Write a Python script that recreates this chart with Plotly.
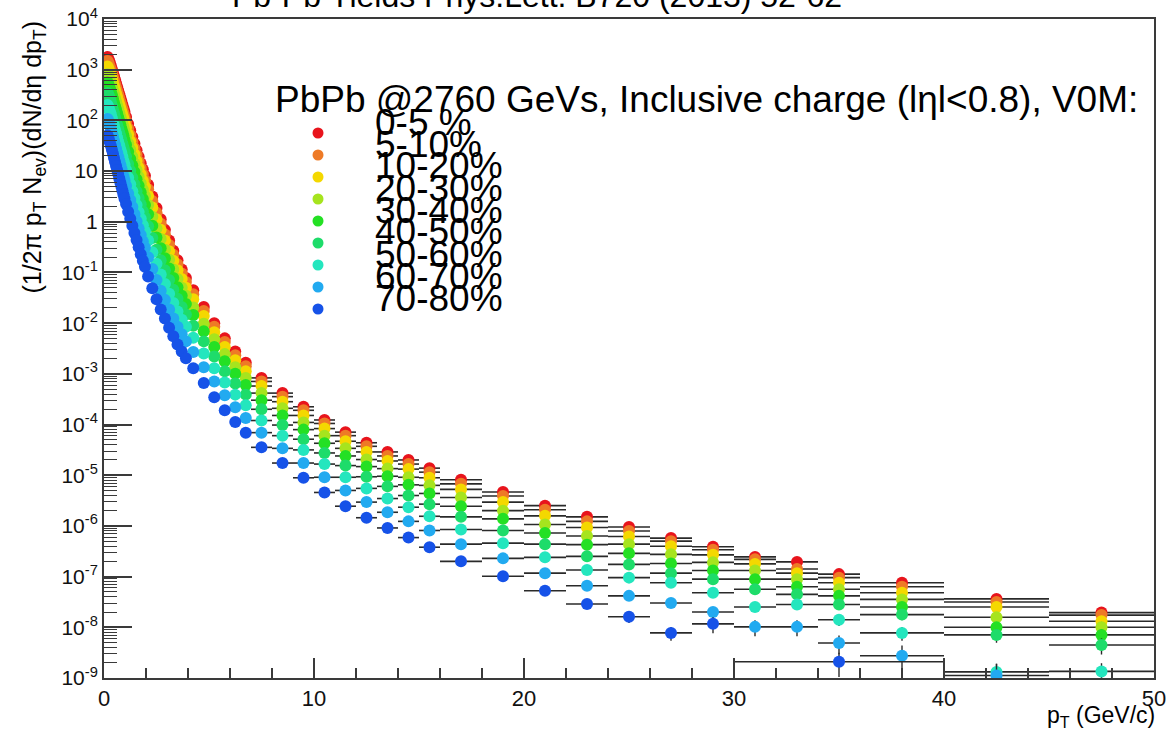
import plotly.graph_objects as go

# ---------------- data ----------------
pt_edges = [0.15, 0.2, 0.25, 0.3, 0.35, 0.4, 0.45, 0.5, 0.55, 0.6, 0.65, 0.7, 0.75, 0.8, 0.85, 0.9, 0.95, 1.0,
            1.1, 1.2, 1.3, 1.4, 1.5, 1.6, 1.7, 1.8, 1.9, 2.0,
            2.2, 2.4, 2.6, 2.8, 3.0, 3.2, 3.4, 3.6, 3.8, 4.0,
            4.5, 5.0, 5.5, 6.0, 6.5, 7.0,
            8.0, 9.0, 10.0, 11.0, 12.0, 13.0, 14.0, 15.0, 16.0,
            18.0, 20.0, 22.0, 24.0, 26.0, 28.0, 30.0, 32.0, 34.0, 36.0,
            40.0, 45.0, 50.0]

centralities = ["0-5 %", "5-10%", "10-20%", "20-30%", "30-40%", "40-50%", "50-60%", "60-70%", "70-80%"]

y_0_5 = [1780, 1580, 1380, 1200, 1020, 871, 741, 631, 537, 457, 389, 331, 282, 240, 204, 174, 148, 117, 85.1, 63.1,
         46.8, 34.7, 25.7, 19.1, 14.1, 10.7, 8.13, 5.37, 3.16, 1.86, 1.12, 0.692, 0.427, 0.269, 0.174, 0.115, 0.0776,
         0.0447, 0.0209, 0.0100, 5.01e-3, 2.75e-3, 1.66e-3, 8.32e-4, 4.17e-4, 2.24e-4, 1.23e-4, 7.08e-5, 4.37e-5,
         2.88e-5, 2.00e-5, 1.38e-5, 8.13e-6, 4.68e-6, 2.51e-6, 1.51e-6, 9.55e-7, 5.75e-7, 3.89e-7, 2.45e-7, 1.95e-7,
         1.12e-7, 7.59e-8, 3.63e-8, 1.95e-8]
y_5_10 = [1480, 1320, 1150, 1000, 851, 724, 617, 525, 447, 380, 324, 275, 234, 200, 170, 141, 120, 95.5, 69.2, 51.3,
          38.0, 28.2, 20.9, 15.5, 11.5, 8.71, 6.61, 4.37, 2.57, 1.51, 0.912, 0.562, 0.347, 0.224, 0.145, 0.0955,
          0.0646, 0.0372, 0.0174, 8.51e-3, 4.27e-3, 2.34e-3, 1.41e-3, 7.08e-4, 3.55e-4, 1.91e-4, 1.05e-4, 6.03e-5,
          3.72e-5, 2.40e-5, 1.66e-5, 1.15e-5, 6.76e-6, 3.89e-6, 2.09e-6, 1.23e-6, 7.94e-7, 5.01e-7, 3.39e-7, 2.19e-7,
          1.41e-7, 9.55e-8, 6.31e-8, 3.16e-8, 1.74e-8]
y_10_20 = [1150, 1020, 891, 776, 661, 562, 479, 407, 339, 288, 245, 209, 178, 151, 129, 110, 91.2, 72.4, 52.5, 38.9,
           28.8, 21.4, 15.8, 11.7, 8.71, 6.46, 4.90, 3.24, 1.91, 1.12, 0.692, 0.427, 0.263, 0.170, 0.110, 0.0741,
           0.0501, 0.0295, 0.0138, 6.61e-3, 3.39e-3, 1.86e-3, 1.12e-3, 5.75e-4, 2.82e-4, 1.51e-4, 8.32e-5, 4.68e-5,
           2.88e-5, 1.91e-5, 1.32e-5, 8.91e-6, 5.25e-6, 2.95e-6, 1.58e-6, 9.33e-7, 6.17e-7, 3.98e-7, 2.69e-7, 1.78e-7,
           1.17e-7, 7.59e-8, 4.79e-8, 2.51e-8, 1.32e-8]
y_20_30 = [813, 724, 617, 537, 457, 389, 331, 275, 234, 200, 170, 141, 120, 102, 87.1, 74.1, 61.7, 49.0, 35.5, 26.3,
           19.1, 14.1, 10.5, 7.76, 5.75, 4.27, 3.24, 2.14, 1.26, 0.741, 0.457, 0.282, 0.178, 0.115, 0.0741, 0.0501,
           0.0347, 0.0204, 9.77e-3, 4.79e-3, 2.45e-3, 1.35e-3, 8.32e-4, 4.17e-4, 2.09e-4, 1.10e-4, 6.03e-5, 3.39e-5,
           2.04e-5, 1.35e-5, 9.12e-6, 6.31e-6, 3.63e-6, 2.00e-6, 1.07e-6, 6.31e-7, 4.37e-7, 2.75e-7, 1.91e-7, 1.32e-7,
           8.91e-8, 5.62e-8, 3.55e-8, 1.58e-8, 1.00e-8]
y_30_40 = [562, 501, 437, 372, 316, 269, 224, 191, 162, 138, 115, 97.7, 83.2, 69.2, 58.9, 50.1, 41.7, 33.1, 24.0, 17.4,
           12.9, 9.55, 6.92, 5.13, 3.80, 2.82, 2.14, 1.41, 0.832, 0.490, 0.302, 0.191, 0.120, 0.0776, 0.0513, 0.0347,
           0.0240, 0.0145, 6.92e-3, 3.39e-3, 1.78e-3, 1.00e-3, 6.03e-4, 3.02e-4, 1.51e-4, 7.94e-5, 4.27e-5, 2.40e-5,
           1.48e-5, 9.55e-6, 6.46e-6, 4.37e-6, 2.45e-6, 1.38e-6, 7.24e-7, 4.27e-7, 2.88e-7, 1.82e-7, 1.32e-7, 8.91e-8,
           6.31e-8, 4.17e-8, 2.51e-8, 1.00e-8, 7.08e-9]
y_40_50 = [347, 309, 269, 229, 195, 162, 138, 115, 97.7, 81.3, 69.2, 57.5, 49.0, 41.7, 34.7, 29.5, 24.5, 19.5, 13.8,
           10.2, 7.41, 5.50, 3.98, 2.95, 2.19, 1.62, 1.23, 0.813, 0.479, 0.282, 0.174, 0.110, 0.0708, 0.0457, 0.0302,
           0.0209, 0.0148, 8.91e-3, 4.37e-3, 2.19e-3, 1.12e-3, 6.46e-4, 3.89e-4, 2.00e-4, 9.77e-5, 5.13e-5, 2.75e-5,
           1.55e-5, 9.33e-6, 6.03e-6, 3.98e-6, 2.69e-6, 1.51e-6, 8.13e-7, 4.37e-7, 2.51e-7, 1.74e-7, 1.17e-7, 8.91e-8,
           5.62e-8, 4.47e-8, 2.82e-8, 1.78e-8, 7.08e-9, 4.47e-9]
y_50_60 = [200, 178, 151, 132, 110, 91.2, 77.6, 64.6, 55.0, 45.7, 38.0, 32.4, 26.9, 22.9, 19.1, 15.8, 13.5, 10.5, 7.41,
           5.50, 3.98, 2.95, 2.14, 1.55, 1.15, 0.851, 0.646, 0.427, 0.251, 0.148, 0.0912, 0.0589, 0.0380, 0.0251,
           0.0170, 0.0117, 8.51e-3, 5.13e-3, 2.51e-3, 1.29e-3, 6.76e-4, 3.89e-4, 2.40e-4, 1.20e-4, 6.03e-5, 3.16e-5,
           1.66e-5, 9.12e-6, 5.50e-6, 3.47e-6, 2.34e-6, 1.55e-6, 8.51e-7, 4.57e-7, 2.40e-7, 1.35e-7, 9.55e-8, 7.59e-8,
           4.79e-8, 2.51e-8, 2.82e-8, 1.41e-8, 7.76e-9, 1.32e-9, 1.35e-9]
y_60_70 = [107, 93.3, 79.4, 67.6, 56.2, 47.9, 39.8, 33.1, 27.5, 22.9, 19.5, 16.2, 13.5, 11.2, 9.33, 7.94, 6.61, 5.13,
           3.63, 2.69, 1.95, 1.41, 1.02, 0.741, 0.550, 0.407, 0.309, 0.200, 0.117, 0.0708, 0.0437, 0.0288, 0.0186,
           0.0123, 8.51e-3, 6.03e-3, 4.37e-3, 2.69e-3, 1.35e-3, 7.08e-4, 3.80e-4, 2.19e-4, 1.35e-4, 6.92e-5, 3.39e-5,
           1.74e-5, 9.12e-6, 5.01e-6, 2.95e-6, 1.86e-6, 1.23e-6, 8.13e-7, 4.37e-7, 2.29e-7, 1.17e-7, 6.61e-8, 4.17e-8,
           3.02e-8, 2.00e-8, 1.02e-8, 1.02e-8, 4.90e-9, 2.75e-9, 1.12e-9, None]
y_70_80 = [50.1, 43.7, 37.2, 31.6, 26.3, 21.9, 18.2, 15.1, 12.6, 10.5, 8.71, 7.24, 6.03, 5.01, 4.17, 3.47, 2.88, 2.24,
           1.58, 1.15, 0.832, 0.603, 0.437, 0.316, 0.229, 0.170, 0.129, 0.0832, 0.0490, 0.0295, 0.0186, 0.0123,
           8.13e-3, 5.50e-3, 3.80e-3, 2.75e-3, 2.04e-3, 1.29e-3, 6.61e-4, 3.47e-4, 1.91e-4, 1.12e-4, 6.92e-5, 3.55e-5,
           1.74e-5, 8.91e-6, 4.57e-6, 2.45e-6, 1.45e-6, 9.12e-7, 5.89e-7, 3.80e-7, 2.00e-7, 1.02e-7, 5.25e-8, 2.88e-8,
           1.62e-8, 7.76e-9, 1.17e-8, None, None, 2.09e-9, None, None, None]

# the 70-80% class uses one merged bin 30-40 GeV/c for its point at 35 GeV/c
merged_bin_70_80 = (61, 30.0, 40.0)

# relative statistical errors of the last 13 bins (pT >= 16 GeV/c)
tail_start = 52
err_0_5 = [0.02, 0.03, 0.03, 0.04, 0.05, 0.06, 0.07, 0.08, 0.09, 0.10, 0.12, 0.15, 0.20]
err_5_10 = [0.02, 0.03, 0.04, 0.05, 0.06, 0.07, 0.08, 0.09, 0.10, 0.12, 0.14, 0.18, 0.22]
err_10_20 = [0.02, 0.03, 0.04, 0.05, 0.06, 0.07, 0.08, 0.10, 0.11, 0.13, 0.15, 0.20, 0.25]
err_20_30 = [0.03, 0.04, 0.05, 0.06, 0.07, 0.08, 0.10, 0.11, 0.13, 0.15, 0.18, 0.22, 0.28]
err_30_40 = [0.03, 0.04, 0.05, 0.06, 0.08, 0.09, 0.11, 0.13, 0.15, 0.18, 0.20, 0.25, 0.30]
err_40_50 = [0.04, 0.05, 0.06, 0.07, 0.09, 0.10, 0.12, 0.15, 0.17, 0.20, 0.23, 0.30, 0.35]
err_50_60 = [0.05, 0.06, 0.07, 0.09, 0.11, 0.13, 0.15, 0.18, 0.20, 0.25, 0.30, 0.45, 0.45]
err_60_70 = [0.07, 0.08, 0.10, 0.12, 0.15, 0.20, 0.25, 0.35, 0.35, 0.40, 0.60, 0.70, 0.0]
err_70_80 = [0.10, 0.12, 0.15, 0.20, 0.25, 0.30, 0.35, 0.0, 0.0, 0.50, 0.0, 0.0, 0.0]

ytick_vals = [1e4, 1e3, 1e2, 1e1, 1e0, 1e-1, 1e-2, 1e-3, 1e-4, 1e-5, 1e-6, 1e-7, 1e-8, 1e-9]
ytick_text = ["10<sup>4</sup>", "10<sup>3</sup>", "10<sup>2</sup>", "10", "1", "10<sup>-1</sup>",
              "10<sup>-2</sup>", "10<sup>-3</sup>", "10<sup>-4</sup>", "10<sup>-5</sup>", "10<sup>-6</sup>",
              "10<sup>-7</sup>", "10<sup>-8</sup>", "10<sup>-9</sup>"]

colors = ["#e8141c", "#ee7a26", "#f4d800", "#a6e41e", "#24e024", "#1edc6a", "#24e6be", "#22aaf0", "#1652e8"]

series = [y_0_5, y_5_10, y_10_20, y_20_30, y_30_40, y_40_50, y_50_60, y_60_70, y_70_80]
errors = [err_0_5, err_5_10, err_10_20, err_20_30, err_30_40, err_40_50, err_50_60, err_60_70, err_70_80]

# ---------------- figure ----------------
W, H = 1171, 735
PL, PR, PT, PB = 104, 1154, 19, 678     # plot frame in pixels
L, R, T, B = PL, W - PR, PT, H - PB
FONT = "Liberation Sans, Arial, Helvetica, sans-serif"
AXC = "#3a3a3a"

nb = len(pt_edges) - 1
pt = [(pt_edges[i] + pt_edges[i + 1]) / 2 for i in range(nb)]
pt_half = [(pt_edges[i + 1] - pt_edges[i]) / 2 for i in range(nb)]
for s in series:
    assert len(s) == nb, len(s)

fig = go.Figure()
for k, (name, col, ys, er) in enumerate(zip(centralities, colors, series, errors)):
    xs = list(pt)
    xh = list(pt_half)
    if k == 8:
        i, lo, hi = merged_bin_70_80
        xs[i] = (lo + hi) / 2
        xh[i] = (hi - lo) / 2
    rel = [0.0] * tail_start + er
    ey = [(y * r if (y is not None) else None) for y, r in zip(ys, rel)]
    fig.add_trace(go.Scatter(
        x=xs, y=ys, mode="markers", name=name, showlegend=False,
        marker=dict(symbol="circle", size=12, color=col, line=dict(width=0)),
        error_x=dict(type="data", array=xh, color="#2a2a2a", thickness=1.6, width=0),
        error_y=dict(type="data", array=ey, color="#2a2a2a", thickness=1.4, width=0),
        cliponaxis=True,
    ))

def px2paper_x(px):
    return (px - PL) / (PR - PL)

def px2paper_y(py):
    return (PB - py) / (PB - PT)

annotations = []
# title (partly outside the canvas, as in the reference)
annotations.append(dict(text="Pb-Pb Yields Phys.Lett. B720 (2013) 52-62", xref="paper", yref="paper",
                        x=px2paper_x(537), y=px2paper_y(-4), xanchor="center", yanchor="middle",
                        showarrow=False, font=dict(family=FONT, size=32, color="black")))
# legend header
annotations.append(dict(text="PbPb @2760 GeVs, Inclusive charge (l\u03b7l<0.8), V0M:", xref="paper", yref="paper",
                        x=px2paper_x(273), y=px2paper_y(100), xanchor="left", yanchor="middle",
                        showarrow=False, font=dict(family=FONT, size=37, color="black")))
shapes = []
for i, (name, col) in enumerate(zip(centralities, colors)):
    my = 133 + 22 * i
    shapes.append(dict(type="circle", xref="paper", yref="paper", xsizemode="pixel", ysizemode="pixel",
                       xanchor=px2paper_x(318), yanchor=px2paper_y(my), x0=-5.5, x1=5.5, y0=-5.5, y1=5.5,
                       fillcolor=col, line=dict(width=0), layer="above"))
    annotations.append(dict(text=name, xref="paper", yref="paper", x=px2paper_x(373), y=px2paper_y(my - 11),
                            xanchor="left", yanchor="middle", showarrow=False,
                            font=dict(family=FONT, size=37, color="black")))
# axis titles
annotations.append(dict(text="(1/2\u03c0 p<sub>T</sub> N<sub>ev</sub>)(dN/d\u03b7 dp<sub>T</sub>)",
                        xref="paper", yref="paper", x=px2paper_x(33), y=px2paper_y(19), textangle=-90,
                        xanchor="center", yanchor="top", showarrow=False,
                        font=dict(family=FONT, size=25, color="black")))
annotations.append(dict(text="p<sub>T</sub> (GeV/c)", xref="paper", yref="paper",
                        x=px2paper_x(1157), y=px2paper_y(716), xanchor="right", yanchor="middle",
                        showarrow=False, font=dict(family=FONT, size=23, color="black")))

minor_y = [m * 10.0 ** e for e in range(-9, 4) for m in range(2, 10)]

fig.update_layout(
    template="none",
    width=W, height=H, margin=dict(l=L, r=R, t=T, b=B, pad=0, autoexpand=False),
    paper_bgcolor="white", plot_bgcolor="white",
    font=dict(family=FONT, color="black"),
    annotations=annotations, shapes=shapes, showlegend=False,
    xaxis=dict(range=[0, 50], tickmode="linear", tick0=0, dtick=10, ticks="inside", ticklen=20, tickwidth=1.5,
               tickcolor=AXC, showline=True, linecolor=AXC, linewidth=2, mirror=True, showgrid=False,
               zeroline=False, automargin=False, ticklabeloverflow="allow",
               tickfont=dict(family=FONT, size=22, color="#111"),
               minor=dict(dtick=2, tick0=0, ticks="inside", ticklen=10, tickwidth=1.5, tickcolor=AXC,
                          showgrid=False)),
    yaxis=dict(type="log", range=[-9, 4], tickmode="array", tickvals=ytick_vals, ticktext=ytick_text,
               ticks="inside", ticklen=28, tickwidth=1.5, tickcolor=AXC, showline=True, linecolor=AXC,
               linewidth=2, mirror=True, showgrid=False, zeroline=False, automargin=False,
               ticklabeloverflow="allow", tickfont=dict(family=FONT, size=21, color="#111"),
               minor=dict(tickvals=minor_y, ticks="inside", ticklen=13, tickwidth=1.3, tickcolor=AXC,
                          showgrid=False)),
)

fig.write_html("out.html", config={"displayModeBar": False},
               post_script="document.body.style.margin='0px';")
